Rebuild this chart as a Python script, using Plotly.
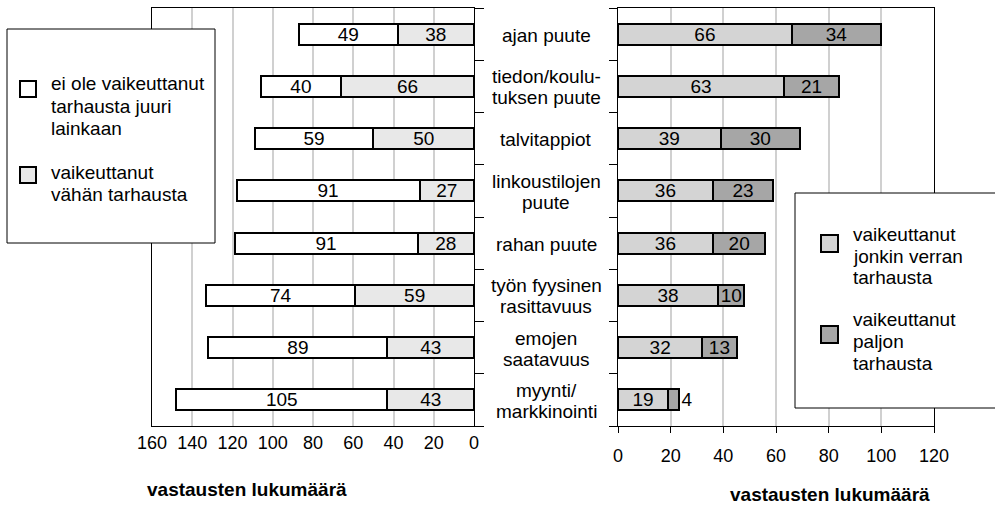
import plotly.graph_objects as go

categories = ["ajan puute", "tiedon/koulu-<br>tuksen puute", "talvitappiot",
              "linkoustilojen<br>puute", "rahan puute", "työn fyysinen<br>rasittavuus",
              "emojen<br>saatavuus", "myynti/<br>markkinointi"]
ei_vaikuttanut = [49, 40, 59, 91, 91, 74, 89, 105]
vahan = [38, 66, 50, 27, 28, 59, 43, 43]
jonkin_verran = [66, 63, 39, 36, 36, 38, 32, 19]
paljon = [34, 21, 30, 23, 20, 10, 13, 4]

left_ticks = [0, 20, 40, 60, 80, 100, 120, 140, 160]
right_ticks = [0, 20, 40, 60, 80, 100, 120]
axis_title = "vastausten lukumäärä"

W, H = 995, 505
T, B = 8, 79
PH = H - T - B
FONT = "Liberation Sans, Arial, Helvetica, sans-serif"

def px(x):
    return x / W

def py(y):
    return (H - B - y) / PH

cat_keys = [c.replace("<br>", " ") for c in categories]

fig = go.Figure()
line = dict(color="black", width=2)
common = dict(orientation="h", texttemplate="%{x}", textangle=0,
              insidetextanchor="middle", textfont=dict(size=19, color="black", family=FONT),
              showlegend=False, hoverinfo="skip")

fig.add_trace(go.Bar(y=cat_keys, x=vahan, marker=dict(color="#e8e8e8", line=line),
                     textposition="inside", xaxis="x", yaxis="y", **common))
fig.add_trace(go.Bar(y=cat_keys, x=ei_vaikuttanut, marker=dict(color="white", line=line),
                     textposition="inside", xaxis="x", yaxis="y", **common))
fig.add_trace(go.Bar(y=cat_keys, x=jonkin_verran, marker=dict(color="#d4d4d4", line=line),
                     textposition="inside", xaxis="x2", yaxis="y2", **common))
fig.add_trace(go.Bar(y=cat_keys, x=paljon, marker=dict(color="#a6a6a6", line=line),
                     textposition=["inside"] * (len(paljon) - 1) + ["outside"],
                     cliponaxis=False, xaxis="x2", yaxis="y2", **common))

grid = "#d0d0d0"
fig.update_layout(
    width=W, height=H,
    margin=dict(l=0, r=0, t=T, b=B, pad=0, autoexpand=False),
    paper_bgcolor="white", plot_bgcolor="white",
    barmode="stack", bargap=0.6,
    font=dict(family=FONT, size=18, color="black"),
    uniformtext=dict(mode="show", minsize=19),
    xaxis=dict(domain=[px(152), px(474)], range=[160, 0], tickvals=left_ticks,
               automargin=False,
               showgrid=True, gridcolor=grid, gridwidth=1.5, zeroline=False,
               showline=True, linecolor="black", linewidth=1, mirror=True,
               ticks="", ticklabelstandoff=0, tickfont=dict(size=18)),
    yaxis=dict(domain=[0, 1], side="right", categoryorder="array", automargin=False,
               categoryarray=cat_keys[::-1], tickson="boundaries", ticks="outside",
               ticklen=9, tickcolor="black", showticklabels=False,
               showline=True, linecolor="black", linewidth=1, mirror=True,
               showgrid=False, zeroline=False),
    xaxis2=dict(domain=[px(618), px(934)], range=[0, 120], tickvals=right_ticks,
                anchor="y2", automargin=False,
                showgrid=True, gridcolor=grid, gridwidth=1.5, zeroline=False,
                showline=True, linecolor="black", linewidth=1, mirror=True,
                ticks="outside", ticklen=6, tickcolor="black",
                ticklabelstandoff=7, tickfont=dict(size=18)),
    yaxis2=dict(domain=[0, 1], anchor="x2", side="left", categoryorder="array",
                automargin=False,
                categoryarray=cat_keys[::-1], tickson="boundaries", ticks="outside",
                ticklen=8, tickcolor="black", showticklabels=False,
                showline=True, linecolor="black", linewidth=1, mirror=True,
                showgrid=False, zeroline=False),
)

annotations = []
# category labels in the middle
for key, lab in zip(cat_keys, categories):
    lines = lab.split("<br>")
    n = len(lines)
    for i, ln in enumerate(lines):
        off = (n - 1) / 2 - i
        annotations.append(dict(text=ln, xref="paper", yref="y2", x=px(546), y=key,
                                yshift=off * 21 - 1, showarrow=False, xanchor="center",
                                yanchor="middle", font=dict(size=19)))

# axis titles
annotations.append(dict(text="<b>" + axis_title + "</b>", xref="paper", yref="paper",
                        x=px(247), y=py(490), showarrow=False, xanchor="center",
                        yanchor="middle", font=dict(size=19)))
annotations.append(dict(text="<b>" + axis_title + "</b>", xref="paper", yref="paper",
                        x=px(830), y=py(494), showarrow=False, xanchor="center",
                        yanchor="middle", font=dict(size=19)))

shapes = []
# legend boxes
shapes.append(dict(type="rect", xref="paper", yref="paper", x0=px(7), x1=px(215),
                   y0=py(243), y1=py(29), fillcolor="white",
                   line=dict(color="black", width=1), layer="above"))
shapes.append(dict(type="rect", xref="paper", yref="paper", x0=px(795), x1=px(1010),
                   y0=py(408), y1=py(193), fillcolor="white",
                   line=dict(color="black", width=1), layer="above"))

legend_items = [
    ("white", (20, 81, 36, 97), 49, ["ei ole vaikeuttanut", "tarhausta juuri", "lainkaan"], 84),
    ("#e8e8e8", (20, 167, 36, 183), 49, ["vaikeuttanut", "vähän tarhausta"], 172),
    ("#d4d4d4", (821, 235, 838, 252), 851, ["vaikeuttanut", "jonkin verran", "tarhausta"], 234),
    ("#a6a6a6", (821, 326, 838, 343), 851, ["vaikeuttanut", "paljon", "tarhausta"], 319),
]
for color, (x0, y0, x1, y1), tx, lines, ty in legend_items:
    shapes.append(dict(type="rect", xref="paper", yref="paper", x0=px(x0), x1=px(x1),
                       y0=py(y1), y1=py(y0), fillcolor=color,
                       line=dict(color="black", width=2), layer="above"))
    for i, ln in enumerate(lines):
        annotations.append(dict(text=ln, xref="paper", yref="paper", x=px(tx),
                                y=py(ty + 22 * i), showarrow=False, xanchor="left",
                                yanchor="middle", font=dict(size=19)))

fig.update_layout(annotations=annotations, shapes=shapes)
fig.write_html("out.html", config={"displayModeBar": False},
               post_script="document.body.style.margin='0px';document.body.style.overflow='hidden';")
